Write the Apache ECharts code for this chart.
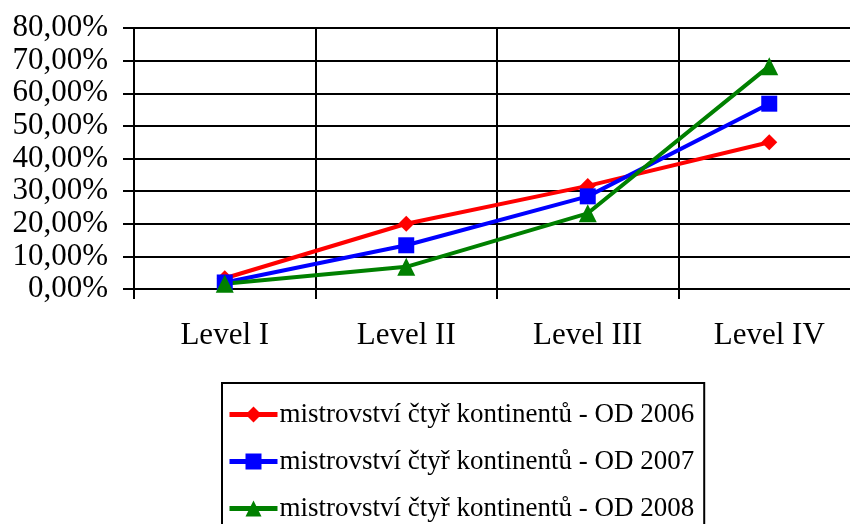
<!DOCTYPE html>
<html>
<head>
<meta charset="utf-8">
<script src="https://cdn.jsdelivr.net/npm/echarts@6/dist/echarts.min.js"></script>
<style>
  html, body { margin: 0; padding: 0; background: #fff; }
  #chart { width: 850px; height: 524px; }
</style>
</head>
<body>
<div id="chart"></div>
<script>
// data (percent)
const categories = ['Level I', 'Level II', 'Level III', 'Level IV'];
const seriesNames = [
  'mistrovství čtyř kontinentů - OD 2006',
  'mistrovství čtyř kontinentů - OD 2007',
  'mistrovství čtyř kontinentů - OD 2008'
];
const od2006 = [3.3, 20.0, 31.6, 45.0];
const od2007 = [2.0, 13.4, 28.4, 56.8];
const od2008 = [1.6, 6.8, 23.2, 68.3];
const yTicks = [0, 10, 20, 30, 40, 50, 60, 70, 80];

const FONT = "'Liberation Serif', 'Times New Roman', serif";
const chart = echarts.init(document.getElementById('chart'));

const mkSeries = (name, data, color, symbol, size) => ({
  name,
  type: 'line',
  data,
  symbol,
  symbolSize: size,
  lineStyle: { color, width: 4 },
  itemStyle: { color },
  animation: false
});

chart.setOption({
  backgroundColor: '#fff',
  textStyle: { fontFamily: FONT, color: '#000' },
  grid: {
    left: 134, top: 28, width: 726, height: 261,
    containLabel: false, outerBoundsMode: 'none'
  },
  xAxis: {
    type: 'category',
    data: categories,
    boundaryGap: true,
    axisLine: { lineStyle: { color: '#000', width: 2 } },
    axisTick: { show: true, length: 10, lineStyle: { color: '#000', width: 2 } },
    splitLine: { show: true, lineStyle: { color: '#000', width: 2 } },
    axisLabel: { fontFamily: FONT, fontSize: 31, color: '#000', margin: 31 }
  },
  yAxis: {
    type: 'value',
    min: yTicks[0],
    max: yTicks[yTicks.length - 1],
    interval: 10,
    axisLine: { show: true, lineStyle: { color: '#000', width: 2 } },
    axisTick: { show: true, length: 11, lineStyle: { color: '#000', width: 2 } },
    splitLine: { show: true, lineStyle: { color: '#000', width: 2 } },
    axisLabel: {
      fontFamily: FONT, fontSize: 31, color: '#000', margin: 26,
      formatter: v => v.toFixed(2).replace('.', ',') + '%'
    }
  },
  legend: {
    orient: 'vertical',
    left: 222,
    top: 383,
    height: 200,
    borderColor: '#000',
    borderWidth: 2,
    borderRadius: 0,
    padding: [18, 10, 30, 5],
    itemGap: 20,
    itemWidth: 48,
    itemHeight: 20,
    lineStyle: { width: 5 },
    textStyle: { fontFamily: FONT, fontSize: 27, color: '#000', padding: [0, 0, 0, -3] },
    data: seriesNames
  },
  series: [
    mkSeries(seriesNames[0], od2006, '#ff0000', 'diamond', 16),
    mkSeries(seriesNames[1], od2007, '#0000ff', 'rect', 16),
    mkSeries(seriesNames[2], od2008, '#008000', 'triangle', 18)
  ]
});
</script>
</body>
</html>
